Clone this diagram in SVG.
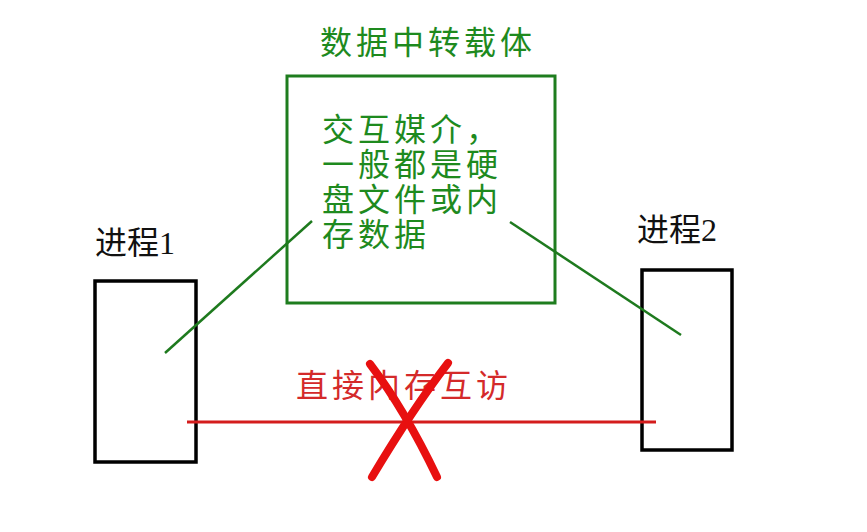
<svg xmlns="http://www.w3.org/2000/svg" width="867" height="532" viewBox="0 0 867 532">
<style>
.g{font-family:"Noto Sans CJK SC","Noto Sans",sans-serif;font-size:32px;fill:#1e8a1e;letter-spacing:4px}
.r{font-family:"Noto Sans CJK SC","Noto Sans",sans-serif;font-size:32px;fill:#d42a2a;letter-spacing:4px}
.k{font-family:"Liberation Serif","Noto Sans CJK SC",serif;font-size:32px;fill:#111}
.box{fill:none;stroke:#000;stroke-width:3.5}
</style>
<rect width="867" height="532" fill="#fff"/>
<g id="carrier">
<text class="g" x="320" y="54">数据中转载体</text>
<rect x="287" y="76" width="268" height="227" fill="none" stroke="#1e7d1e" stroke-width="3"/>
<text class="g" x="322" y="141">交互媒介，</text>
<text class="g" x="322" y="176">一般都是硬</text>
<text class="g" x="322" y="211">盘文件或内</text>
<text class="g" x="322" y="246">存数据</text>
</g>
<g id="process1">
<text class="k" x="95" y="254">进程1</text>
<rect class="box" x="95" y="281" width="101" height="181"/>
</g>
<g id="process2">
<text class="k" x="637" y="241">进程2</text>
<rect class="box" x="642" y="270" width="90" height="180"/>
</g>
<g id="connectors">
<line x1="165" y1="353" x2="312" y2="221" stroke="#1e7a1e" stroke-width="2.5"/>
<line x1="510" y1="222" x2="681" y2="335" stroke="#1e7a1e" stroke-width="2.5"/>
<line x1="187" y1="422" x2="656" y2="422" stroke="#d41c1c" stroke-width="3"/>
</g>
<g id="direct">
<text class="r" x="296" y="397">直接内存互访</text>
<path d="M370 364 Q405 410 437 477" fill="none" stroke="#e81010" stroke-width="8" stroke-linecap="round"/>
<path d="M448 363 Q412 410 372 477" fill="none" stroke="#e81010" stroke-width="8" stroke-linecap="round"/>
</g>
</svg>
